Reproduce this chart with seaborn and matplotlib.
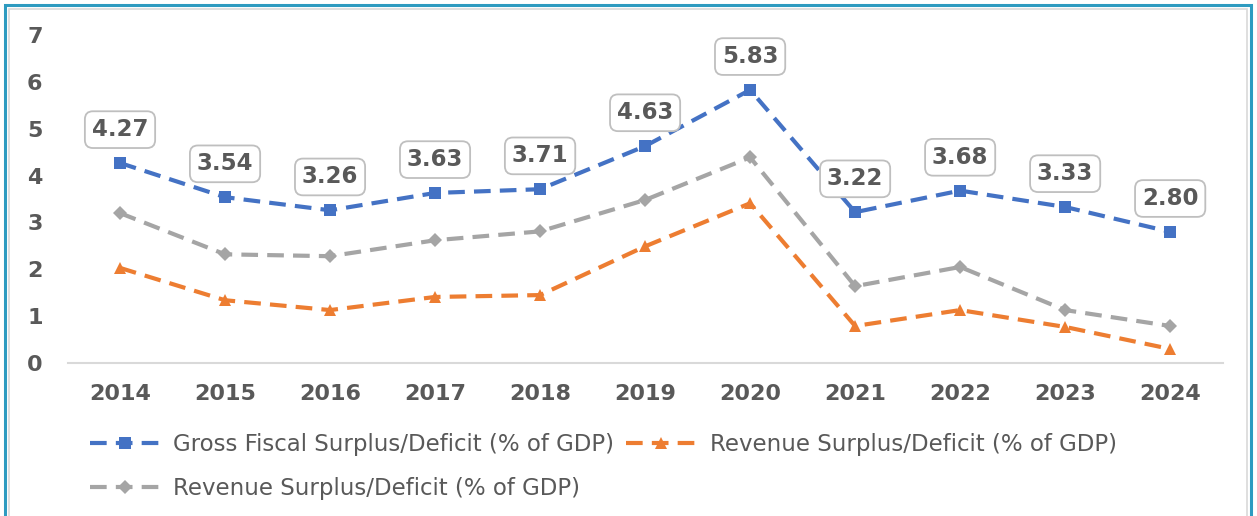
import matplotlib
matplotlib.use("Agg")
import matplotlib.pyplot as plt
import seaborn as sns
import pandas as pd
from matplotlib.patches import Rectangle

years = ["2014", "2015", "2016", "2017", "2018", "2019", "2020", "2021", "2022", "2023", "2024"]
gross_fiscal = [4.27, 3.54, 3.26, 3.63, 3.71, 4.63, 5.83, 3.22, 3.68, 3.33, 2.80]
revenue_orange = [2.03, 1.34, 1.13, 1.41, 1.45, 2.49, 3.41, 0.79, 1.13, 0.77, 0.30]
revenue_gray = [3.20, 2.32, 2.28, 2.62, 2.81, 3.48, 4.39, 1.64, 2.05, 1.13, 0.79]

label_gross = "Gross Fiscal Surplus/Deficit (% of GDP)"
label_rev = "Revenue Surplus/Deficit (% of GDP)"

sns.set_style("white")
plt.rcParams['font.family'] = ['DejaVu Sans']

text_col = "#595959"
blue = "#4472C4"
orange = "#ED7D31"
gray = "#A5A5A5"

df = pd.DataFrame({"pos": range(len(years)), "gross": gross_fiscal,
                   "rev_o": revenue_orange, "rev_g": revenue_gray})

fig = plt.figure(figsize=(12.57, 5.16), dpi=100)
ax = fig.add_axes([0.0537, 0.2965, 0.919, 0.6355])

sns.lineplot(data=df, x="pos", y="gross", ax=ax, color=blue, marker="s", label=label_gross,
             linewidth=3, markersize=9, markeredgewidth=0)
sns.lineplot(data=df, x="pos", y="rev_o", ax=ax, color=orange, marker="^", label=label_rev,
             linewidth=3, markersize=9, markeredgewidth=0)
sns.lineplot(data=df, x="pos", y="rev_g", ax=ax, color=gray, marker="D", label=label_rev,
             linewidth=3, markersize=7, markeredgewidth=0)

# seaborn ignores linestyle here, so set the dashes on the lines afterwards
for line in ax.lines:
    line.set_linestyle((0, (4, 2.2)))

for i, v in enumerate(gross_fiscal):
    ax.annotate(f"{v:.2f}", (i, v), xytext=(0, 24), textcoords="offset points",
                ha="center", va="center", fontsize=16.5, fontweight="bold", color=text_col,
                bbox=dict(boxstyle="round,pad=0.3,rounding_size=0.35", fc="white", ec="#BFBFBF", lw=1.3))

ax.set_xlim(-0.5, len(years) - 0.5)
ax.set_ylim(0, 7)
ax.set_xticks(range(len(years)))
ax.set_xticklabels(years)
ax.set_yticks(range(0, 8))
ax.set_xlabel("")
ax.set_ylabel("")
for s in ["top", "right", "left"]:
    ax.spines[s].set_visible(False)
ax.spines["bottom"].set_color("#D9D9D9")
ax.spines["bottom"].set_linewidth(1.5)
ax.tick_params(axis="both", length=0, labelsize=16, labelcolor=text_col)
ax.tick_params(axis="x", pad=15)
ax.tick_params(axis="y", pad=18)
for t in ax.get_xticklabels() + ax.get_yticklabels():
    t.set_fontweight("bold")

handles, labels = ax.get_legend_handles_labels()
ax.get_legend().remove()
order = [0, 2, 1]
fig.legend([handles[i] for i in order], [labels[i] for i in order], ncol=2,
           loc="upper left", bbox_to_anchor=(0.055, 0.2), frameon=False,
           fontsize=16.5, labelcolor=text_col, handlelength=3.1, handletextpad=0.55,
           columnspacing=0.5, labelspacing=0.9)

fig.patches.append(Rectangle((5 / 1257, -0.1), 1246 / 1257, 1.1 - 5 / 516, transform=fig.transFigure,
                             fill=False, ec="#2E9BC0", lw=2.2))
fig.patches.append(Rectangle((9 / 1257, -0.1), 1238 / 1257, 1.1 - 9 / 516, transform=fig.transFigure,
                             fill=False, ec="#D9D9D9", lw=1.2))

fig.savefig("out.png", dpi=100)
